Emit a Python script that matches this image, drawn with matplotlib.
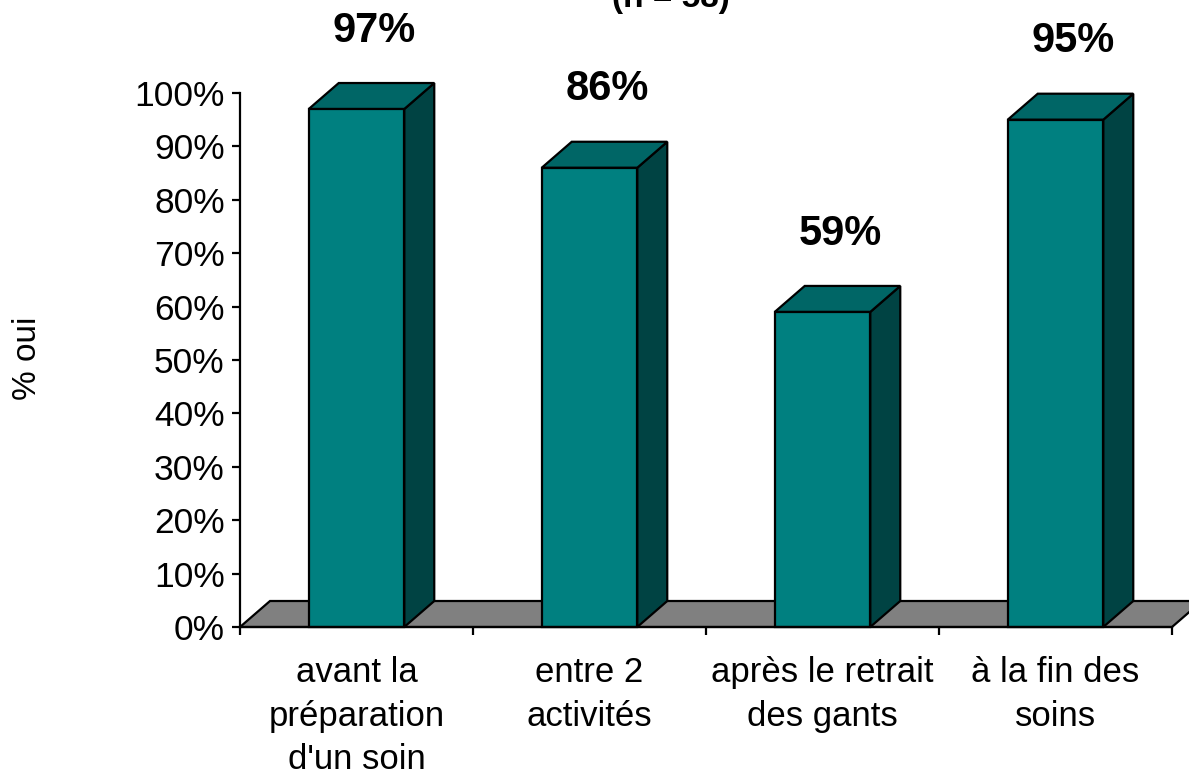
import matplotlib
matplotlib.use("Agg")
import matplotlib.pyplot as plt
from matplotlib.patches import Polygon

plt.rcParams['font.family'] = ['Liberation Sans', 'DejaVu Sans']

categories = ["avant la\npréparation\nd'un soin", "entre 2\nactivités",
              "après le retrait\ndes gants", "à la fin des\nsoins"]
values = [97, 86, 59, 95]
labels = ["97%", "86%", "59%", "95%"]
yticks = [0, 10, 20, 30, 40, 50, 60, 70, 80, 90, 100]
ytick_labels = [f"{t}%" for t in yticks]
title = "(n = 58)"
ylabel = "% oui"

W, H = 1189, 775
fig = plt.figure(figsize=(W / 100, H / 100), dpi=100)
ax = fig.add_axes([240 / W, 148 / H, 932 / W, 534 / H])
ax.set_xlim(0, len(categories))
ax.set_ylim(0, 100)

front_c = "#008080"
top_c = "#006666"
side_c = "#004343"
floor_c = "#808080"
lw = 1.6
dx = 30 / 233.0
dy = 26 / 5.34
bw = 0.41

# floor
n = len(categories)
ax.add_patch(Polygon([(0, 0), (n, 0), (n + dx, dy), (dx, dy)], closed=True,
                     facecolor=floor_c, edgecolor="black", lw=lw, clip_on=False, zorder=1))

for i, v in enumerate(values):
    x0 = i + 0.5 - bw / 2
    x1 = x0 + bw
    ax.add_patch(Polygon([(x1, 0), (x1 + dx, dy), (x1 + dx, v + dy), (x1, v)], closed=True,
                         facecolor=side_c, edgecolor="black", lw=lw, clip_on=False, zorder=3))
    ax.add_patch(Polygon([(x0, v), (x1, v), (x1 + dx, v + dy), (x0 + dx, v + dy)], closed=True,
                         facecolor=top_c, edgecolor="black", lw=lw, clip_on=False, zorder=3))
    ax.add_patch(Polygon([(x0, 0), (x1, 0), (x1, v), (x0, v)], closed=True,
                         facecolor=front_c, edgecolor="black", lw=lw, clip_on=False, zorder=4))
    ax.text(i + 0.5 + dx * 0.6, v + dy + 9.8, labels[i], ha="center", va="center",
            fontsize=30, fontweight="bold", clip_on=False)

for s in ["top", "right"]:
    ax.spines[s].set_visible(False)
ax.spines["left"].set_linewidth(lw)
ax.spines["bottom"].set_linewidth(lw)
ax.spines["left"].set_zorder(5)
ax.spines["bottom"].set_zorder(5)

ax.set_yticks(yticks)
ax.set_yticklabels(ytick_labels, fontsize=25.5)
ax.tick_params(axis="y", direction="out", length=6, width=lw, pad=5)

ax.set_xticks(range(n + 1))
ax.set_xticklabels([""] * (n + 1))
ax.tick_params(axis="x", which="major", direction="out", length=6, width=lw)
ax.set_xticks([i + 0.5 for i in range(n)], minor=True)
ax.set_xticklabels(categories, minor=True, fontsize=25, linespacing=1.4)
ax.tick_params(axis="x", which="minor", length=0, pad=21)

ax.set_facecolor("none")

fig.text(28 / W, 1 - 358 / H, ylabel, rotation=90, ha="center", va="center", fontsize=24)
fig.text(671 / W, 1 - 6.5 / H, title, ha="center", va="baseline", fontsize=24, fontweight="bold")

fig.savefig("out.png", dpi=100)
